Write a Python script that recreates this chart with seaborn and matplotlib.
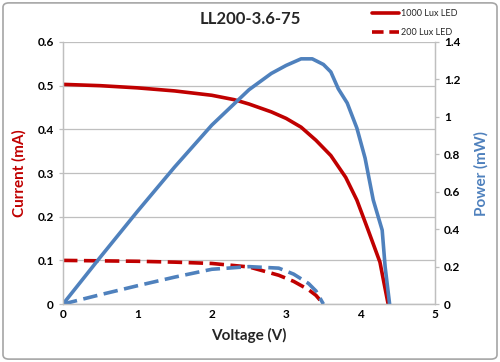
import pandas as pd
import matplotlib
matplotlib.use("Agg")
import matplotlib.pyplot as plt
import seaborn as sns
from matplotlib.lines import Line2D
from matplotlib.patches import FancyBboxPatch

# 1000 Lux - ток
v_i1000 = [0, 0.5, 1.0, 1.5, 2.0, 2.3, 2.5, 2.8, 3.0, 3.2, 3.4, 3.6, 3.8, 3.95, 4.1, 4.26, 4.37]
i_1000 = [0.503, 0.500, 0.495, 0.488, 0.478, 0.468, 0.458, 0.440, 0.425, 0.405, 0.375, 0.340,
          0.290, 0.238, 0.170, 0.096, 0.0]

# 1000 Lux - мощность
v_p1000 = [0, 0.5, 1.0, 1.5, 2.0, 2.5, 2.8, 3.0, 3.2, 3.35, 3.5, 3.6, 3.7, 3.82, 3.95, 4.06,
           4.17, 4.29, 4.33, 4.39]
p_1000 = [0, 0.25, 0.495, 0.732, 0.956, 1.145, 1.232, 1.275, 1.31, 1.31, 1.28, 1.24, 1.15,
          1.074, 0.94, 0.78, 0.556, 0.395, 0.198, 0.0]

# 200 Lux
v_200 = [0, 0.5, 1.0, 1.5, 2.0, 2.5, 2.9, 3.1, 3.3, 3.4, 3.5]
i_200 = [0.100, 0.099, 0.098, 0.096, 0.093, 0.085, 0.066, 0.052, 0.033, 0.020, 0.0]
p_200 = [0, 0.05, 0.098, 0.144, 0.186, 0.200, 0.192, 0.160, 0.110, 0.070, 0.0]

RED = "#C00000"
BLUE = "#4F81BD"

sns.set_style("white")
plt.rcParams['font.family'] = ['Lato', 'DejaVu Sans']

fig = plt.figure(figsize=(5.0, 3.62), dpi=100)
ax = fig.add_axes([0.126, 0.16, 0.744, 0.724])
ax2 = ax.twinx()

dash = (4, 1.8)
sns.lineplot(x=v_i1000, y=i_1000, ax=ax, color=RED, lw=2.6, sort=False)
sns.lineplot(x=v_200, y=i_200, ax=ax, color=RED, lw=2.6, sort=False, linestyle=(0, dash))
sns.lineplot(x=v_p1000, y=p_1000, ax=ax2, color=BLUE, lw=2.6, sort=False)
sns.lineplot(x=v_200, y=p_200, ax=ax2, color=BLUE, lw=2.6, sort=False, linestyle=(0, dash))

ax.set_xlim(0, 5)
ax.set_ylim(0, 0.6)
ax2.set_ylim(0, 1.4)
ax.set_xticks([0, 1, 2, 3, 4, 5])
ax.set_yticks([0, 0.1, 0.2, 0.3, 0.4, 0.5, 0.6])
ax.set_yticklabels(["0", "0.1", "0.2", "0.3", "0.4", "0.5", "0.6"])
ax2.set_yticks([0, 0.2, 0.4, 0.6, 0.8, 1.0, 1.2, 1.4])
ax2.set_yticklabels(["0", "0.2", "0.4", "0.6", "0.8", "1", "1.2", "1.4"])

ax.yaxis.grid(True, color="#BFBFBF", lw=0.9)
ax.set_axisbelow(True)
for a in (ax, ax2):
    a.spines['top'].set_visible(False)
    for s in ('left', 'right', 'bottom'):
        a.spines[s].set_color("#BFBFBF")
        a.spines[s].set_linewidth(0.9)
    a.tick_params(labelsize=8.5, colors="#BFBFBF", labelcolor="black", length=3, width=0.9)
ax.tick_params(axis='x', length=0)
ax.tick_params(axis='y', left=True, direction='out')
ax2.tick_params(axis='y', right=True, direction='out')
for lbl in ax.get_xticklabels() + ax.get_yticklabels() + ax2.get_yticklabels():
    lbl.set_fontweight('bold')

ax.set_xlabel("Voltage (V)", fontsize=11, fontweight='bold', labelpad=6)
ax.set_ylabel("Current (mA)", fontsize=11, fontweight='bold', color=RED, labelpad=8)
ax2.set_ylabel("Power (mW)", fontsize=11, fontweight='bold', color=BLUE, labelpad=10)

fig.text(0.5, 0.948, "LL200-3.6-75", ha='center', va='center', fontsize=12, fontweight='bold')

handles = [Line2D([], [], color=RED, lw=2.6),
           Line2D([], [], color=RED, lw=2.6, linestyle=(0, (3.2, 1.6)))]
fig.legend(handles, ["1000 Lux LED", "200 Lux LED"], loc='upper left',
           bbox_to_anchor=(0.728, 0.997), frameon=False,
           handlelength=3.0, handletextpad=0.2, labelspacing=1.1,
           prop={'size': 6.5})

# рамка вокруг рисунка
fig.patches.append(FancyBboxPatch((0.006, 0.008), 0.988, 0.984, transform=fig.transFigure,
                                  boxstyle="round,pad=0,rounding_size=0.012",
                                  fill=False, edgecolor="#A6A6A6", lw=1.2))

fig.savefig("out.png", dpi=100)
